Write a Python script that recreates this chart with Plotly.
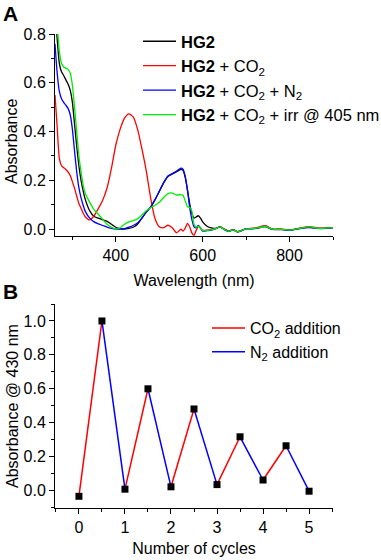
import plotly.graph_objects as go

# ---------------- Panel A data ----------------
wavelength = [260, 265, 270, 275, 280, 285, 290, 295, 300, 305, 310, 315, 320, 325, 330,
              340, 350, 360, 370, 380, 390, 400, 410, 420, 430, 440, 450, 460, 470, 480,
              490, 500, 510, 520, 530, 540, 550, 555, 560, 565, 570, 575, 580, 585, 590,
              595, 600, 610, 620, 630, 640, 650, 660, 670, 680, 690, 700, 720, 745, 760,
              780, 800, 820, 845, 870, 900]

hg2 = [0.90, 0.78, 0.68, 0.645, 0.63, 0.612, 0.595, 0.57, 0.52, 0.43, 0.34, 0.26, 0.20, 0.155, 0.12,
       0.075, 0.052, 0.045, 0.038, 0.032, 0.02, 0.008, 0.002, 0.0, 0.003, 0.008, 0.02, 0.045, 0.07, 0.09,
       0.12, 0.155, 0.19, 0.216, 0.226, 0.236, 0.245, 0.24, 0.21, 0.16, 0.105, 0.065, 0.045, 0.05, 0.055,
       0.045, 0.03, 0.012, 0.005, 0.003, 0.009, 0.0, -0.008, -0.002, -0.01, -0.005, 0.002, 0.003, 0.012, 0.0,
       0.0, -0.004, 0.002, 0.008, 0.003, 0.006]

hg2_co2 = [0.55, 0.42, 0.29, 0.26, 0.252, 0.245, 0.235, 0.22, 0.195, 0.167, 0.135, 0.105, 0.085, 0.065, 0.05,
           0.038, 0.055, 0.085, 0.12, 0.17, 0.25, 0.345, 0.41, 0.455, 0.473, 0.46, 0.41, 0.33, 0.24, 0.13,
           0.045, 0.01, 0.006, 0.016, 0.006, -0.015, 0.0, -0.008, 0.005, 0.024, 0.01, -0.015, -0.025, -0.005, 0.012,
           0.005, -0.005, -0.004, -0.002, 0.003, 0.01, 0.0, -0.008, -0.002, -0.01, -0.005, 0.002, 0.004, 0.014, 0.0,
           0.0, -0.003, 0.003, 0.01, 0.004, 0.006]

hg2_co2_n2 = [0.76, 0.64, 0.565, 0.535, 0.52, 0.508, 0.495, 0.47, 0.41, 0.32, 0.235, 0.17, 0.128, 0.097, 0.072,
              0.045, 0.03, 0.022, 0.015, 0.008, 0.003, 0.0, 0.0, 0.002, 0.008, 0.015, 0.025, 0.045, 0.07, 0.09,
              0.12, 0.155, 0.19, 0.218, 0.228, 0.238, 0.25, 0.245, 0.215, 0.16, 0.09, 0.04, 0.01, 0.005, 0.015,
              0.005, -0.008, -0.006, -0.004, 0.002, 0.009, -0.002, -0.01, -0.003, -0.012, -0.006, 0.001, 0.002, 0.01, -0.001,
              -0.002, -0.005, 0.001, 0.006, 0.002, 0.005]

hg2_co2_irr = [0.95, 0.84, 0.73, 0.68, 0.665, 0.66, 0.655, 0.64, 0.59, 0.50, 0.40, 0.30, 0.235, 0.18, 0.145,
               0.11, 0.08, 0.06, 0.04, 0.02, 0.008, 0.0, 0.005, 0.02, 0.03, 0.035, 0.042, 0.058, 0.075, 0.088,
               0.098, 0.11, 0.13, 0.146, 0.148, 0.14, 0.142, 0.138, 0.115, 0.092, 0.09, 0.075, 0.02, 0.008, 0.012,
               0.004, -0.005, -0.005, -0.003, 0.002, 0.009, -0.001, -0.009, -0.003, -0.011, -0.005, 0.001, 0.003, 0.011, 0.0,
               -0.001, -0.004, 0.002, 0.009, 0.003, 0.006]

spectra_names = ["<b>HG2</b>", "<b>HG2</b> + CO<sub>2</sub>", "<b>HG2</b> + CO<sub>2</sub> + N<sub>2</sub>",
                 "<b>HG2</b> + CO<sub>2</sub> + irr @ 405 nm"]
spectra_colors = ["#000000", "#ff0000", "#0000ff", "#00ee00"]

# ---------------- Panel B data ----------------
cycles = [0, 0.5, 1, 1.5, 2, 2.5, 3, 3.5, 4, 4.5, 5]
abs430 = [-0.034, 1.0, 0.008, 0.60, 0.022, 0.481, 0.035, 0.317, 0.062, 0.264, -0.004]
cycle_ticks = [0, 1, 2, 3, 4, 5]

FONT = "Arial, Liberation Sans, sans-serif"

fig = go.Figure()

for ys, name, col in zip([hg2, hg2_co2, hg2_co2_n2, hg2_co2_irr], spectra_names, spectra_colors):
    fig.add_trace(go.Scatter(x=wavelength, y=ys, mode="lines", name=name,
                             line=dict(color=col, width=1.3, shape="spline", smoothing=0.6),
                             xaxis="x", yaxis="y", legend="legend"))

# Panel B segments: rising = CO2 addition (red), falling = N2 addition (blue)
rx, ry, bx, by = [], [], [], []
for i in range(len(cycles) - 1):
    seg_x = [cycles[i], cycles[i + 1], None]
    seg_y = [abs430[i], abs430[i + 1], None]
    if i % 2 == 0:
        rx += seg_x; ry += seg_y
    else:
        bx += seg_x; by += seg_y

fig.add_trace(go.Scatter(x=rx, y=ry, mode="lines", name="CO<sub>2</sub> addition",
                         line=dict(color="#ff0000", width=1.5), xaxis="x2", yaxis="y2", legend="legend2"))
fig.add_trace(go.Scatter(x=bx, y=by, mode="lines", name="N<sub>2</sub> addition",
                         line=dict(color="#0000ff", width=1.5), xaxis="x2", yaxis="y2", legend="legend2"))
fig.add_trace(go.Scatter(x=cycles, y=abs430, mode="markers", showlegend=False,
                         marker=dict(symbol="square", size=7, color="#000000"),
                         xaxis="x2", yaxis="y2"))

axis_common = dict(showline=True, linecolor="black", linewidth=1, mirror=False,
                   ticks="outside", ticklen=5, tickwidth=1, tickcolor="black",
                   showgrid=False, zeroline=False, automargin=True,
                   tickfont=dict(family=FONT, size=16, color="black"))

xd = [55 / 381, 333 / 381]
yA = [1 - 236 / 560, 1 - 34 / 560]
yB = [1 - 508 / 560, 1 - 304 / 560]
TF = dict(family=FONT, size=16, color="black")

fig.update_layout(
    template="none",
    width=381, height=560,
    margin=dict(l=0, r=0, t=0, b=0, pad=0, autoexpand=False),
    paper_bgcolor="white", plot_bgcolor="white",
    font=dict(family=FONT, size=16, color="black"),
    xaxis=dict(domain=xd, anchor="y", range=[260, 900], tick0=0, dtick=200,
               minor=dict(ticks="outside", ticklen=3, dtick=100, tick0=0, tickcolor="black"),
               title=dict(text="Wavelength (nm)", standoff=11, font=TF), **axis_common),
    yaxis=dict(domain=yA, anchor="x", range=[-0.028, 0.8],
               tick0=0, dtick=0.2, tickformat=".1f",
               minor=dict(ticks="outside", ticklen=3, dtick=0.1, tick0=0, tickcolor="black"),
               **axis_common),
    xaxis2=dict(domain=xd, anchor="y2", range=[-0.52, 5.52], tickvals=cycle_ticks,
                minor=dict(ticks="outside", ticklen=3, dtick=0.5, tick0=0, tickcolor="black"),
                title=dict(text="Number of cycles", standoff=7, font=TF), **axis_common),
    yaxis2=dict(domain=yB, anchor="x2", range=[-0.103, 1.1],
                tick0=0, dtick=0.2, tickformat=".1f",
                minor=dict(ticks="outside", ticklen=3, dtick=0.1, tick0=0, tickcolor="black"),
                **axis_common),
    legend=dict(x=138 / 381, y=1 - 24 / 560, xanchor="left", yanchor="top", itemwidth=33,
                bgcolor="rgba(0,0,0,0)", borderwidth=0,
                font=dict(family=FONT, size=16.5, color="black"), tracegroupgap=0),
    legend2=dict(x=207 / 381, y=1 - 311 / 560, xanchor="left", yanchor="top", itemwidth=33,
                 bgcolor="rgba(0,0,0,0)", borderwidth=0,
                 font=dict(family=FONT, size=16, color="black")),
    showlegend=True,
    annotations=[
        dict(text="<b>A</b>", x=1 / 381, y=1.0, xref="paper", yref="paper",
             xanchor="left", yanchor="top", showarrow=False,
             font=dict(family=FONT, size=21, color="black")),
        dict(text="<b>B</b>", x=1 / 381, y=1 - 278 / 560, xref="paper", yref="paper",
             xanchor="left", yanchor="top", showarrow=False,
             font=dict(family=FONT, size=21, color="black")),
        dict(text="Absorbance", x=11 / 381, y=1 - 142 / 560, xref="paper", yref="paper",
             xanchor="center", yanchor="middle", textangle=-90, showarrow=False, font=TF),
        dict(text="Absorbance @ 430 nm", x=12 / 381, y=sum(yB) / 2, xref="paper", yref="paper",
             xanchor="center", yanchor="middle", textangle=-90, showarrow=False, font=TF),
    ],
)

fig.write_html("out.html", config={"displayModeBar": False},
               post_script="document.body.style.margin='0px';")
